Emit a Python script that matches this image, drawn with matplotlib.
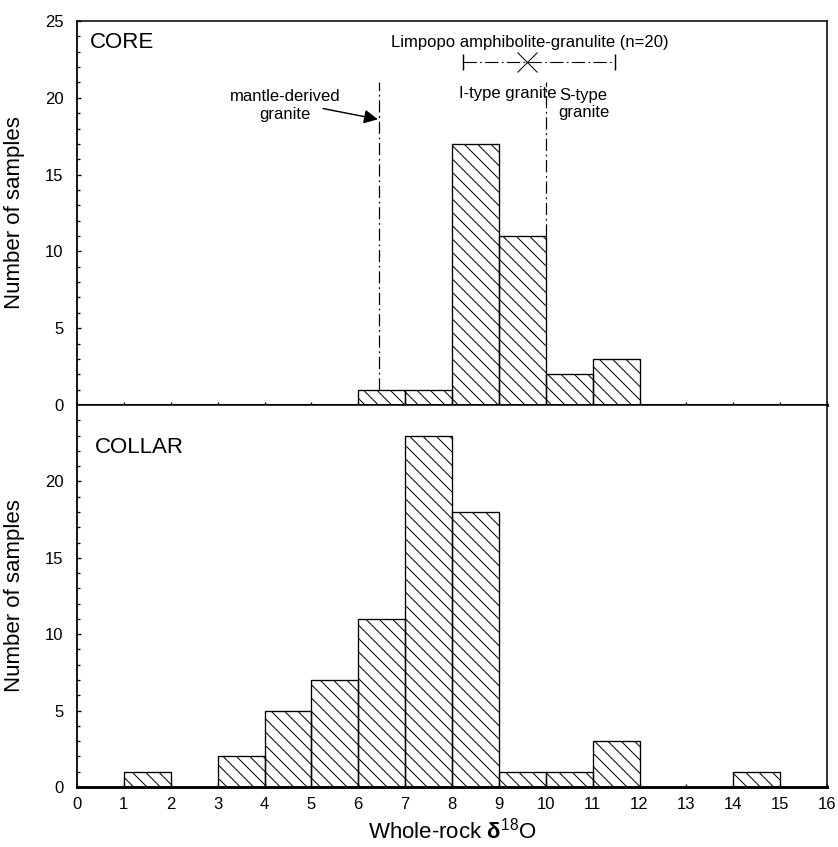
import matplotlib
matplotlib.use("Agg")
import matplotlib.pyplot as plt
import numpy as np
from matplotlib.ticker import MultipleLocator

plt.rcParams['font.family'] = ['Liberation Sans', 'DejaVu Sans']
plt.rcParams['mathtext.fontset'] = 'custom'
plt.rcParams['mathtext.rm'] = 'Liberation Sans'
plt.rcParams['mathtext.it'] = 'Liberation Sans:italic'
plt.rcParams['mathtext.bf'] = 'Liberation Sans:bold'
plt.rcParams['hatch.linewidth'] = 0.9

# ---- data ----
core_left = [6, 7, 8, 9, 10, 11]
core_counts = [1, 1, 17, 11, 2, 3]
collar_left = [1, 3, 4, 5, 6, 7, 8, 9, 10, 11, 14]
collar_counts = [1, 2, 5, 7, 11, 23, 18, 1, 1, 3, 1]
x_ticks = list(range(0, 17))
mantle_x = 6.45
is_boundary_x = 10.0
limpopo_range = [8.23, 11.47]
limpopo_mean = 9.6

DPI = 80
fig = plt.figure(figsize=(838 / DPI, 847 / DPI), dpi=DPI)
L, R = 77 / 838, 827 / 838
y_top, y_mid, y_bot = 1 - 21 / 847, 1 - 405 / 847, 1 - 787 / 847
ax1 = fig.add_axes([L, y_mid, R - L, y_top - y_mid])
ax2 = fig.add_axes([L, y_bot, R - L, y_mid - y_bot], sharex=ax1)

fs_tick = 15
fs_lab = 20

for ax, left, counts in ((ax1, core_left, core_counts), (ax2, collar_left, collar_counts)):
    ax.bar(left, counts, width=1, align='edge', fill=False, hatch='\\\\',
           edgecolor='black', linewidth=1.2, zorder=2)
    ax.set_xlim(0, 16)
    ax.set_ylim(0, 25)
    for s in ('top', 'right'):
        ax.spines[s].set_linewidth(1.4)
    ax.spines['left'].set_linewidth(1.6)
    ax.spines['bottom'].set_linewidth(2.6)
    ax.spines['bottom'].set_zorder(3)
    ax.set_xticks(x_ticks)
    ax.yaxis.set_minor_locator(MultipleLocator(1))
    ax.tick_params(axis='both', which='both', direction='in', top=False, right=False,
                   labelsize=fs_tick, width=1.2)
    ax.tick_params(axis='y', which='major', length=4, pad=12)
    ax.tick_params(axis='y', which='minor', length=3)
    ax.tick_params(axis='x', which='major', length=3, pad=9)
    ax.set_ylabel('Number of samples', fontsize=fs_lab)
    ax.yaxis.set_label_coords(-0.069, 0.5)

ax1.set_yticks([0, 5, 10, 15, 20, 25])
ax2.set_yticks([0, 5, 10, 15, 20])
ax2.yaxis.set_minor_locator(matplotlib.ticker.FixedLocator(np.arange(0, 25)))
ax1.tick_params(axis='x', labelbottom=False)
ax2.set_xlabel(r'Whole-rock $\mathbf{\delta}^{18}$O', fontsize=fs_lab, labelpad=5)

ax1.text(0.28, 23.6, 'CORE', fontsize=fs_lab, ha='left', va='center')
ax2.text(0.38, 22.2, 'COLLAR', fontsize=fs_lab, ha='left', va='center')

dd = (0, (10, 3, 1.5, 3))
ax1.plot([mantle_x, mantle_x], [1, 21], color='black', lw=1.1, linestyle=dd, zorder=1)
ax1.plot([is_boundary_x, is_boundary_x], [11, 21], color='black', lw=1.1, linestyle=dd, zorder=1)

ax1.text(4.44, 19.5, 'mantle-derived\ngranite', fontsize=fs_tick, ha='center', va='center',
         linespacing=1.2)
ax1.annotate('', xy=(mantle_x - 0.03, 18.6), xytext=(5.25, 19.3),
             arrowprops=dict(arrowstyle='-|>', color='black', lw=1.3, mutation_scale=26,
                             shrinkA=0, shrinkB=0))

ax1.text(9.2, 20.25, 'I-type granite', fontsize=fs_tick, ha='center', va='center')
ax1.text(10.81, 19.6, 'S-type\ngranite', fontsize=fs_tick, ha='center', va='center',
         linespacing=1.2)

ax1.text(9.66, 23.57, 'Limpopo amphibolite-granulite (n=20)', fontsize=fs_tick,
         ha='center', va='center')
ax1.plot(limpopo_range, [22.3, 22.3], color='black', lw=1.0, linestyle=(0, (12, 3, 1.5, 3)))
ax1.plot(limpopo_range, [22.3, 22.3], linestyle='none', marker='|', markersize=14,
         color='black', markeredgewidth=1.3)
ax1.plot([limpopo_mean], [22.3], marker='x', markersize=18, color='black',
         markeredgewidth=0.9, linestyle='none')

fig.savefig('out.png', dpi=DPI)
